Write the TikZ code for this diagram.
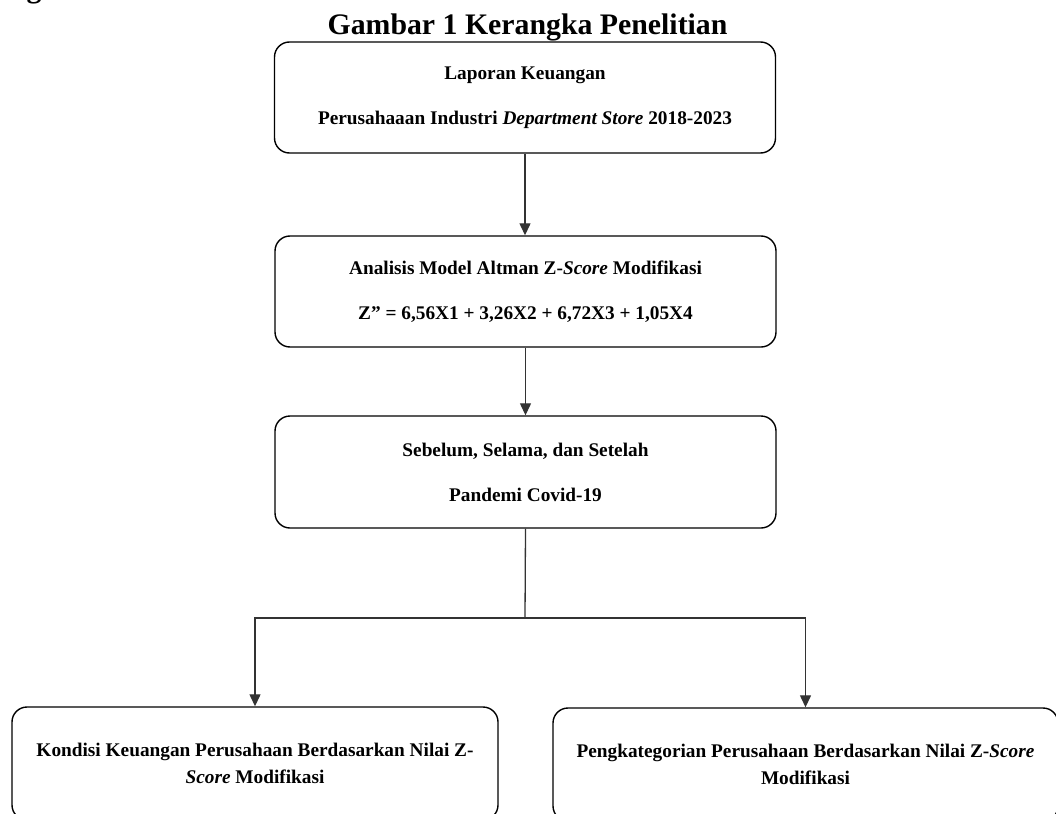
\documentclass[tikz,border=0pt]{standalone}
\usepackage{fontspec}
\setmainfont{Liberation Serif}
\usetikzlibrary{arrows.meta}
\begin{document}
\begin{tikzpicture}[x=1pt,y=-1pt,
  box/.style={draw=black, line width=1.4pt, rounded corners=15pt, align=center,
    font=\fontsize{19.3}{27}\selectfont\bfseries, inner sep=0pt},
  conn/.style={draw=black!80, line width=1.3pt},
  arr/.style={conn, -{Triangle[width=11pt,length=12pt]}},
  ttl/.style={font=\fontsize{29.8}{30}\selectfont\bfseries, anchor=base, inner sep=0pt}]
\useasboundingbox (0,0) rectangle (1056,813);
\clip (0,0) rectangle (1056,813);
\node[ttl] (frag) at (34,-2) {g};
\node[ttl] (title) at (527.5,35) {Gambar 1 Kerangka Penelitian};
\node[box, minimum width=501pt, minimum height=111pt] (b1) at (525,97.5)
  {Laporan Keuangan\\[18pt]Perusahaaan Industri \textit{Department Store} 2018-2023};
\node[box, minimum width=501pt, minimum height=111pt] (b2) at (525.5,291.5)
  {Analisis Model Altman Z-\textit{Score} Modifikasi\\[18pt]Z” = 6,56X1 + 3,26X2 + 6,72X3 + 1,05X4};
\node[box, minimum width=501pt, minimum height=112pt] (b3) at (525.5,472)
  {Sebelum, Selama, dan Setelah\\[18pt]Pandemi Covid-19};
\node[box, minimum width=486pt, minimum height=113pt] (b4) at (255,763.5)
  {Kondisi Keuangan Perusahaan Berdasarkan Nilai Z-\\\textit{Score} Modifikasi};
\node[box, minimum width=505pt, minimum height=113pt] (b5) at (805.5,764.5)
  {Pengkategorian Perusahaan Berdasarkan Nilai Z-\textit{Score}\\Modifikasi};
\coordinate (j) at (525,618);
\draw[arr] (b1.south) -- (b1.south |- b2.north);
\draw[arr] (b2.south) -- (b2.south |- b3.north);
\draw[conn] (b3.south) -- (j);
\draw[arr] (j) -| (b4.north);
\draw[arr] (j) -| (b5.north);
\end{tikzpicture}
\end{document}
